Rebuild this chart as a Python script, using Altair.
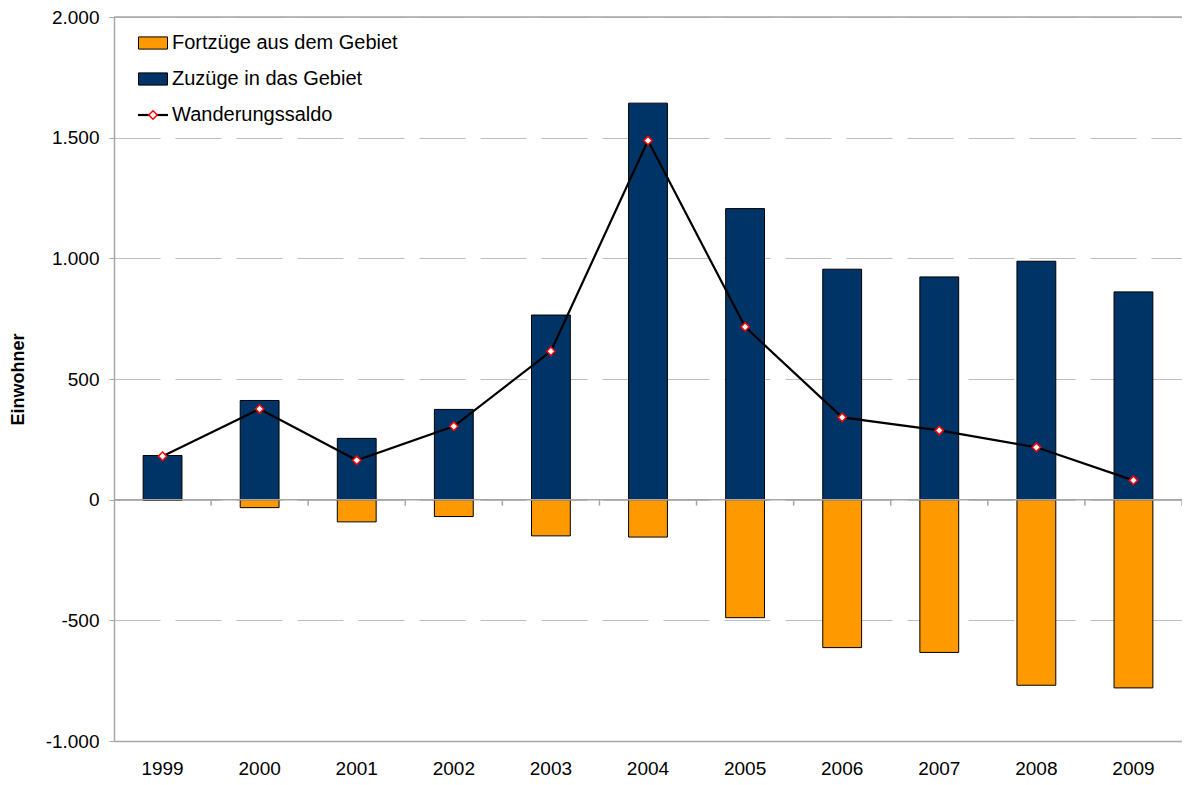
import altair as alt
import pandas as pd

# ---------------- data ----------------
years = [str(y) for y in range(1999, 2010)]
zuzuege = [183, 411, 254, 374, 765, 1643, 1206, 955, 923, 988, 861]
fortzuege = [-3, -33, -92, -70, -150, -155, -489, -613, -633, -769, -780]
saldo = [180, 376, 163, 304, 615, 1488, 716, 341, 287, 217, 80]
series_names = ["Fortzüge aus dem Gebiet", "Zuzüge in das Gebiet", "Wanderungssaldo"]
y_ticks = [-1000, -500, 0, 500, 1000, 1500, 2000]
y_title = "Einwohner"

# ---------------- styling ----------------
FONT = "Liberation Sans"
ORANGE = "#FF9900"
NAVY = "#003366"
GRID = "#BFBFBF"
AXIS = "#A6A6A6"
W, H = 1068, 724
STEP = W / len(years)

bars_df = pd.DataFrame({
    "Jahr": years * 2,
    "Wert": fortzuege + zuzuege,
    "Serie": [series_names[0]] * len(years) + [series_names[1]] * len(years),
})
line_df = pd.DataFrame({"Jahr": years, "Wert": saldo})
frame_df = pd.DataFrame({"v": [0, y_ticks[-1]]})
tick_df = pd.DataFrame({"Jahr": years})
legend_df = pd.DataFrame({"label": series_names})

xscale = alt.Scale(domain=years, paddingInner=0.6, paddingOuter=0.3)
yscale = alt.Scale(domain=[y_ticks[0], y_ticks[-1]], nice=False, zero=False)

x_enc = alt.X(
    "Jahr:N", scale=xscale,
    axis=alt.Axis(title=None, labelAngle=0, labelFontSize=19, labelColor="black",
                  labelFont=FONT, labelPadding=18, domain=True, domainColor=AXIS,
                  domainWidth=1.5, ticks=False, grid=False),
)
y_enc = alt.Y(
    "Wert:Q", scale=yscale,
    axis=alt.Axis(
        title=y_title, values=y_ticks,
        labelExpr="replace(replace(format(datum.value, ',d'), ',', '.'), '\u2212', '-')",
        labelFontSize=19, labelColor="black", labelFont=FONT, labelPadding=10,
        tickSize=5, tickColor=AXIS, domainColor=AXIS, domainWidth=1.5,
        grid=True, gridColor=GRID, gridWidth=1, gridDash=[46, 15],
        titleFont=FONT, titleFontSize=18, titleFontWeight="bold", titleColor="black",
        titleX=-96, titleBaseline="middle", titleAngle=-90,
    ),
)

bars = alt.Chart(bars_df).mark_bar(stroke="black", strokeWidth=1).encode(
    x=x_enc,
    y=y_enc,
    color=alt.Color("Serie:N", scale=alt.Scale(domain=series_names[:2], range=[ORANGE, NAVY]), legend=None),
)

frame = alt.Chart(frame_df).mark_rule(color=AXIS, strokeWidth=1.5).encode(
    y=alt.Y("v:Q", scale=yscale)
)

zero_ticks_left = alt.Chart(tick_df[1:]).mark_rule(color=AXIS, strokeWidth=1.5, xOffset=-STEP / 2).encode(
    x=alt.X("Jahr:N", scale=xscale), y=alt.datum(0), y2=alt.datum(-25)
)
zero_ticks_right = alt.Chart(tick_df[-1:]).mark_rule(color=AXIS, strokeWidth=1.5, xOffset=STEP / 2).encode(
    x=alt.X("Jahr:N", scale=xscale), y=alt.datum(0), y2=alt.datum(-25)
)

line = alt.Chart(line_df).mark_line(color="black", strokeWidth=2.2).encode(
    x=alt.X("Jahr:N", scale=xscale), y=alt.Y("Wert:Q", scale=yscale)
)
points = alt.Chart(line_df).mark_point(
    shape="diamond", filled=True, fill="white", stroke="red", strokeWidth=1.5, size=70, opacity=1
).encode(x=alt.X("Jahr:N", scale=xscale), y=alt.Y("Wert:Q", scale=yscale))

main = alt.layer(bars, frame, zero_ticks_left, zero_ticks_right, line, points)

# ---------------- legend (top-left, inside plot) ----------------
lscale = alt.Scale(type="point", domain=series_names, range=[26, 98], padding=0)
ly = alt.Y("label:N", scale=lscale, axis=None)

leg_rects = alt.Chart(legend_df[:2]).mark_point(
    shape="M-1,-0.42H1V0.42H-1Z", size=841, filled=True, stroke="black", strokeWidth=1, opacity=1
).encode(
    x=alt.value(39),
    y=ly,
    fill=alt.Fill("label:N", scale=alt.Scale(domain=series_names[:2], range=[ORANGE, NAVY]), legend=None),
)
leg_line = alt.Chart(legend_df[2:]).mark_rule(color="black", strokeWidth=2.2).encode(
    x=alt.value(24), x2=alt.value(54), y=ly
)
leg_diamond = alt.Chart(legend_df[2:]).mark_point(
    shape="diamond", filled=True, fill="white", stroke="red", strokeWidth=1.5, size=70, opacity=1
).encode(x=alt.value(39), y=ly)
leg_text = alt.Chart(legend_df).mark_text(
    align="left", baseline="middle", font=FONT, fontSize=20, color="black"
).encode(x=alt.value(58), y=ly, text="label:N")

legend = alt.layer(leg_rects, leg_line, leg_diamond, leg_text)

chart = alt.layer(main, legend).resolve_scale(y="independent", fill="independent").properties(
    width=W, height=H,
    autosize=alt.AutoSizeParams(type="none"),
    padding={"left": 106, "top": 9, "right": 0, "bottom": 36},
).configure_view(stroke=None).configure(background="white")

chart.save("out.html", embed_options={"renderer": "svg", "actions": False})
